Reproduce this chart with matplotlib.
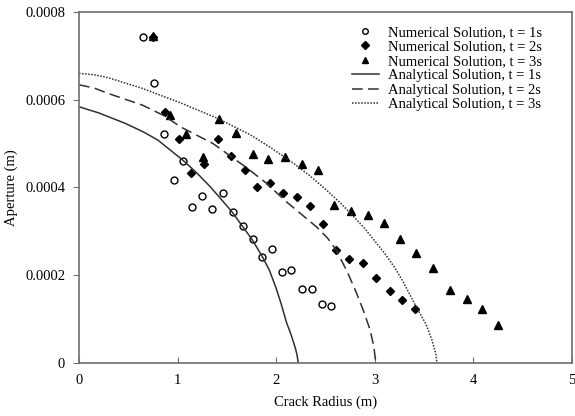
import matplotlib
matplotlib.use('Agg')
import matplotlib.pyplot as plt
import numpy as np

plt.rcParams['font.family'] = ['Liberation Serif', 'DejaVu Serif']
plt.rcParams['font.size'] = 10.5

# numerical solutions
x_num1 = [0.65, 0.76, 0.86, 0.96, 1.05, 1.15, 1.25, 1.35, 1.46, 1.56,
          1.66, 1.76, 1.86, 1.96, 2.06, 2.15, 2.26, 2.36, 2.46, 2.56]
y_num1 = [0.000743, 0.000639, 0.000523, 0.000417, 0.000461, 0.000356, 0.000381, 0.000352, 0.000388, 0.000344,
          0.000312, 0.000282, 0.000241, 0.000259, 0.000208, 0.000211, 0.000168, 0.000169, 0.000134, 0.000129]

x_num2 = [0.75, 0.87, 1.01, 1.14, 1.27, 1.41, 1.54, 1.68, 1.81, 1.94, 2.07,
          2.21, 2.34, 2.47, 2.61, 2.74, 2.88, 3.01, 3.15, 3.28, 3.41]
y_num2 = [0.000742, 0.000573, 0.000511, 0.000432, 0.000454, 0.000510, 0.000472, 0.000440, 0.000400, 0.000410, 0.000387,
          0.000379, 0.000358, 0.000317, 0.000258, 0.000238, 0.000229, 0.000193, 0.000163, 0.000144, 0.000124]

x_num3 = [0.75, 0.92, 1.09, 1.26, 1.42, 1.59, 1.76, 1.92, 2.09, 2.26, 2.42,
          2.59, 2.76, 2.93, 3.09, 3.26, 3.42, 3.59, 3.76, 3.93, 4.09, 4.25]
y_num3 = [0.000746, 0.000566, 0.000522, 0.000470, 0.000555, 0.000525, 0.000477, 0.000464, 0.000469, 0.000454, 0.000440,
          0.000361, 0.000346, 0.000338, 0.000318, 0.000283, 0.000251, 0.000217, 0.000166, 0.000145, 0.000122, 0.000086]

# analytical solutions
x_ana1 = [0, 0.20, 0.47, 0.65, 0.80, 1.06, 1.20, 1.33, 1.45, 1.55, 1.66, 1.76, 1.86,
          1.93, 2.00, 2.05, 2.105, 2.15, 2.19, 2.21, 2.224]
y_ana1 = [0.000584, 0.000570, 0.000546, 0.000527, 0.000508, 0.000461, 0.000432, 0.000402, 0.000371, 0.000345,
          0.000311, 0.000280, 0.000242, 0.000212, 0.000170, 0.000135, 0.000092, 0.000065, 0.000037, 0.000020, 0]

x_ana2 = [0, 0.15, 0.30, 0.64, 0.85, 1.04, 1.36, 1.70, 1.90, 2.10, 2.25, 2.41, 2.52, 2.61,
          2.72, 2.81, 2.88, 2.95, 2.99, 3.01]
y_ana2 = [0.000634, 0.000627, 0.000614, 0.000588, 0.000565, 0.000537, 0.000500, 0.000445, 0.000410, 0.000368,
          0.000340, 0.000310, 0.000285, 0.000257, 0.000208, 0.000162, 0.000122, 0.000077, 0.000038, 0]

x_ana3 = [0, 0.15, 0.30, 0.64, 1.04, 1.40, 1.73, 1.95, 2.17, 2.35, 2.51, 2.65, 2.78, 2.90, 3.00,
          3.10, 3.20, 3.29, 3.42, 3.52, 3.58, 3.62, 3.63]
y_ana3 = [0.000660, 0.000657, 0.000650, 0.000626, 0.000592, 0.000558, 0.000521, 0.000490, 0.000456, 0.000425,
          0.000394, 0.000365, 0.000335, 0.000306, 0.000278, 0.000250, 0.000218, 0.000184, 0.000128, 0.000088,
          0.000052, 0.000020, 0]

fig = plt.figure(figsize=(5.75, 4.16), dpi=100)
ax = fig.add_axes([0.1374, 0.1274, 0.8574, 0.8438])

ax.plot(x_num1, y_num1, 'o', mfc='white', mec='black', mew=1.0, ms=5, ls='none',
        label='Numerical Solution, t = 1s')
ax.plot(x_num2, y_num2, 'D', color='black', ms=4.5, ls='none',
        label='Numerical Solution, t = 2s')
ax.plot(x_num3, y_num3, '^', color='black', ms=6, ls='none',
        label='Numerical Solution, t = 3s')
ax.plot(x_ana1, y_ana1, '-', color='#303030', lw=1.1, label='Analytical Solution, t = 1s')
ax.plot(x_ana2, y_ana2, color='#303030', lw=1.1, ls=(0, (7, 3.5)), label='Analytical Solution, t = 2s')
ax.plot(x_ana3, y_ana3, color='#303030', lw=1.1, ls=(0, (1, 1)), label='Analytical Solution, t = 3s')

ax.set_xlim(0, 5)
ax.set_ylim(0, 0.0008)
ax.set_xticks([0, 1, 2, 3, 4, 5])
ax.set_yticks([0, 0.0002, 0.0004, 0.0006, 0.0008])
ax.set_yticklabels(['0', '0.0002', '0.0004', '0.0006', '0.0008'])
ax.set_xlabel('Crack Radius (m)', labelpad=6)
ax.set_ylabel('Aperture (m)', labelpad=5)

for s in ax.spines.values():
    s.set_color('#6e6e6e')
    s.set_linewidth(1.2)
ax.tick_params(axis='x', direction='in', length=4, color='#6e6e6e', pad=8)
ax.tick_params(axis='y', direction='out', length=4, color='#6e6e6e', pad=6)

ax.legend(loc='upper left', bbox_to_anchor=(0.536, 0.985), frameon=False, numpoints=1,
          handlelength=1.85, handletextpad=0.62, labelspacing=0.08, borderaxespad=0.2,
          markerscale=0.8)

fig.savefig('out.png', dpi=100)
